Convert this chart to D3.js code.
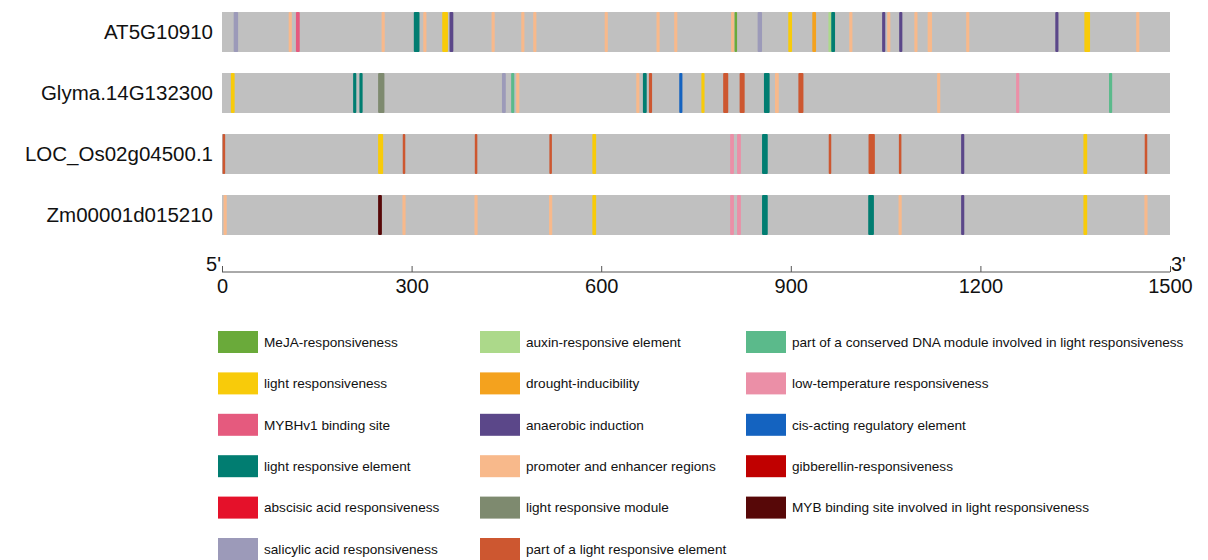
<!DOCTYPE html>
<html>
<head>
<meta charset="utf-8">
<script src="https://cdn.jsdelivr.net/npm/d3@7"></script>
<style>
  body { margin: 0; background: #fff; }
  svg { display: block; font-family: "Liberation Sans", Arial, sans-serif; }
</style>
</head>
<body>
<svg id="chart" width="1208" height="560"></svg>
<script>
// Gene promoter names (top to bottom)
const genes = ["AT5G10910", "Glyma.14G132300", "LOC_Os02g04500.1", "Zm00001d015210"];

// Element types, in legend order (column by column)
const elementTypes = [
  "MeJA-responsiveness", "light responsiveness", "MYBHv1 binding site",
  "light responsive element", "abscisic acid responsiveness", "salicylic acid responsiveness",
  "auxin-responsive element", "drought-inducibility", "anaerobic induction",
  "promoter and enhancer regions", "light responsive module", "part of a light responsive element",
  "part of a conserved DNA module involved in light responsiveness", "low-temperature responsiveness",
  "cis-acting regulatory element", "gibberellin-responsiveness", "MYB binding site involved in light responsiveness"
];
const elementColors = [
  "#6aaa3a", "#f8cb0a", "#e55a7e",
  "#017d71", "#e5112a", "#9c9ab9",
  "#acd98a", "#f4a21e", "#5b4789",
  "#f8b98b", "#7e8a6f", "#cd5730",
  "#5bba8b", "#eb8fa7", "#1463c0", "#c00000", "#570808"
];

// Sequence axis
const seqDomain = [0, 1500];
const tickValues = [0, 300, 600, 900, 1200, 1500];

// Elements per promoter: [position (bp), type, length (bp)]
const at5g10910 = [
  [22, "salicylic acid responsiveness", 7], [108, "promoter and enhancer regions", 5],
  [120, "MYBHv1 binding site", 6], [255, "promoter and enhancer regions", 5],
  [308, "light responsive element", 9], [321, "promoter and enhancer regions", 5],
  [353, "light responsiveness", 9], [363, "anaerobic induction", 6],
  [429, "promoter and enhancer regions", 5], [476, "promoter and enhancer regions", 5],
  [495, "promoter and enhancer regions", 5], [608, "promoter and enhancer regions", 5],
  [690, "promoter and enhancer regions", 5], [718, "promoter and enhancer regions", 5],
  [808, "promoter and enhancer regions", 5], [813, "MeJA-responsiveness", 4],
  [851, "salicylic acid responsiveness", 7], [899, "light responsiveness", 6],
  [937, "drought-inducibility", 6], [962, "auxin-responsive element", 5],
  [967, "light responsive element", 6], [995, "promoter and enhancer regions", 5],
  [1047, "anaerobic induction", 5], [1055, "promoter and enhancer regions", 5],
  [1074, "anaerobic induction", 5], [1098, "promoter and enhancer regions", 5],
  [1120, "promoter and enhancer regions", 7], [1180, "promoter and enhancer regions", 5],
  [1321, "anaerobic induction", 5], [1369, "light responsiveness", 9],
  [1449, "promoter and enhancer regions", 5]
];
const glyma14g132300 = [
  [17, "light responsiveness", 6], [210, "light responsive element", 5],
  [220, "light responsive element", 5], [252, "light responsive module", 10],
  [446, "salicylic acid responsiveness", 6], [460, "part of a conserved DNA module involved in light responsiveness", 5],
  [468, "promoter and enhancer regions", 5], [658, "promoter and enhancer regions", 5],
  [669, "light responsive element", 6], [678, "part of a light responsive element", 5],
  [726, "cis-acting regulatory element", 5], [761, "light responsiveness", 5],
  [797, "part of a light responsive element", 8], [823, "part of a light responsive element", 8],
  [862, "light responsive element", 9], [878, "promoter and enhancer regions", 6],
  [916, "part of a light responsive element", 8], [1134, "promoter and enhancer regions", 5],
  [1259, "low-temperature responsiveness", 5], [1406, "part of a conserved DNA module involved in light responsiveness", 5]
];
const locOs02g04500 = [
  [3, "part of a light responsive element", 4], [251, "light responsiveness", 8],
  [288, "part of a light responsive element", 4], [402, "part of a light responsive element", 4],
  [520, "part of a light responsive element", 4], [589, "light responsiveness", 6],
  [807, "low-temperature responsiveness", 6], [818, "low-temperature responsiveness", 6],
  [859, "light responsive element", 9], [962, "part of a light responsive element", 4],
  [1028, "part of a light responsive element", 10], [1073, "part of a light responsive element", 4],
  [1172, "anaerobic induction", 5], [1366, "light responsiveness", 6],
  [1462, "part of a light responsive element", 4]
];
const zm00001d015210 = [
  [5, "promoter and enhancer regions", 5], [250, "MYB binding site involved in light responsiveness", 6],
  [288, "promoter and enhancer regions", 5], [402, "promoter and enhancer regions", 5],
  [520, "promoter and enhancer regions", 5], [589, "light responsiveness", 6],
  [807, "low-temperature responsiveness", 6], [818, "low-temperature responsiveness", 6],
  [859, "light responsive element", 9], [1027, "light responsive element", 9],
  [1073, "promoter and enhancer regions", 5], [1172, "anaerobic induction", 5],
  [1366, "light responsiveness", 6], [1462, "promoter and enhancer regions", 5]
];
const trackElements = [at5g10910, glyma14g132300, locOs02g04500, zm00001d015210];

const svg = d3.select("#chart");

const x = d3.scaleLinear().domain(seqDomain).range([222, 1170]);
const y = d3.scaleBand().domain(genes).range([12, 235]).paddingInner(0.344).paddingOuter(0);
const color = d3.scaleOrdinal().domain(elementTypes).range(elementColors);

// Promoter tracks
const tracks = svg.selectAll("g.track").data(genes).join("g")
  .attr("class", "track")
  .attr("transform", d => `translate(0,${y(d)})`);

tracks.append("rect")
  .attr("x", x(seqDomain[0]))
  .attr("width", x(seqDomain[1]) - x(seqDomain[0]))
  .attr("height", y.bandwidth())
  .attr("fill", "#c0c0c0");

tracks.selectAll("rect.el")
  .data((g, i) => trackElements[i])
  .join("rect")
  .attr("class", "el")
  .attr("x", d => x(d[0]) - (x(d[2]) - x(0)) / 2)
  .attr("width", d => x(d[2]) - x(0))
  .attr("height", y.bandwidth())
  .attr("rx", 1)
  .attr("fill", d => color(d[1]));

tracks.append("text")
  .attr("x", 213)
  .attr("y", y.bandwidth() / 2)
  .attr("dy", "0.35em")
  .attr("text-anchor", "end")
  .attr("font-size", 20.5)
  .attr("fill", "#111")
  .text(d => d);

// Sequence axis
const axisY = 272;
const axis = svg.append("g")
  .attr("transform", `translate(0,${axisY})`)
  .call(d3.axisBottom(x).tickValues(tickValues).tickFormat(d3.format("d")).tickSize(-6).tickPadding(7));
axis.select(".domain").attr("stroke", "#555").attr("d", `M${x(0)},0H${x(1500)}`);
axis.selectAll(".tick line").attr("stroke", "#555");
axis.selectAll(".tick text").attr("font-size", 20).attr("fill", "#111")
  .attr("font-family", "'Liberation Sans', Arial, sans-serif");

svg.append("text").attr("x", x(0) - 1).attr("y", axisY - 1)
  .attr("text-anchor", "end").attr("font-size", 20).attr("fill", "#111").text("5'");
svg.append("text").attr("x", x(1500) + 1).attr("y", axisY - 1)
  .attr("text-anchor", "start").attr("font-size", 20).attr("fill", "#111").text("3'");

// Legend: three columns of six rows
const colX = [218, 480, 746];
const rowY = d3.scaleLinear().domain([0, 5]).range([342, 549]);
const legend = svg.selectAll("g.legend").data(elementTypes).join("g")
  .attr("class", "legend")
  .attr("transform", (d, i) => `translate(${colX[Math.floor(i / 6)]},${rowY(i % 6)})`);
legend.append("rect")
  .attr("x", 0).attr("y", -11)
  .attr("width", 40).attr("height", 22)
  .attr("fill", d => color(d));
legend.append("text")
  .attr("x", 46).attr("dy", "0.35em")
  .attr("font-size", 13.6).attr("fill", "#111")
  .text(d => d);
</script>
</body>
</html>
